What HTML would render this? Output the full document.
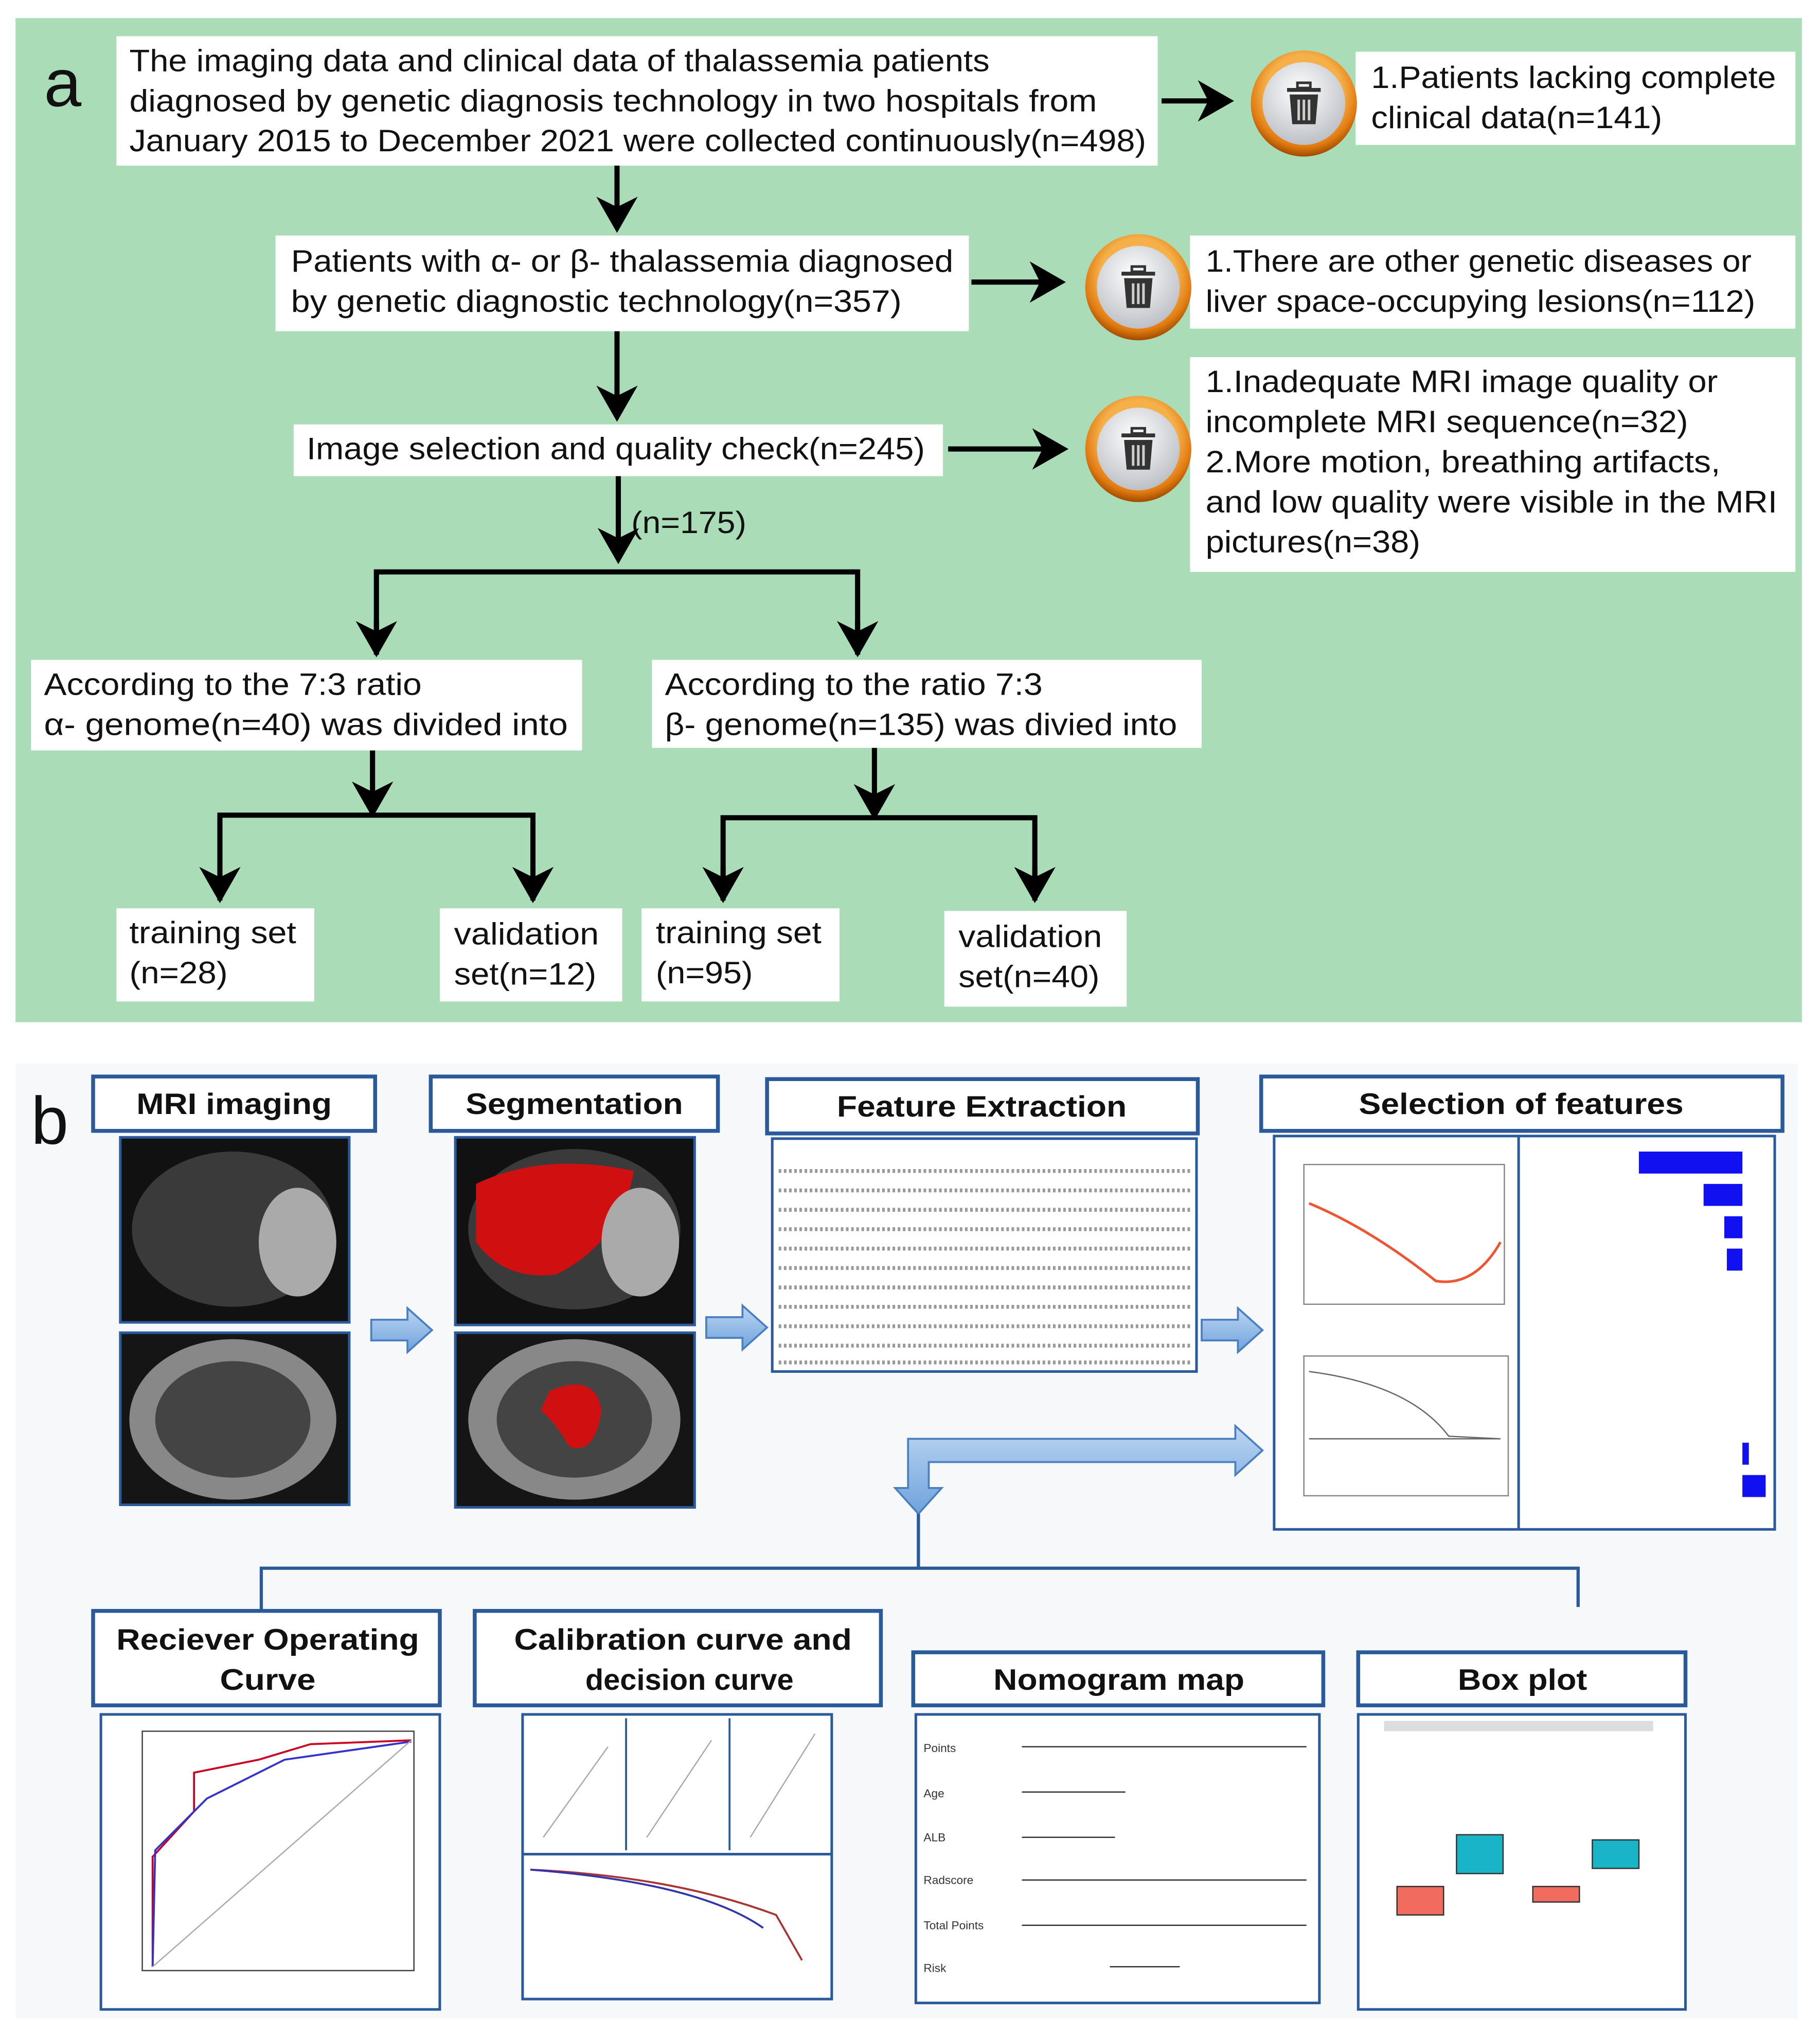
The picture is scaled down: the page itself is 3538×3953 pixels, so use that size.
<!DOCTYPE html>
<html><head><meta charset="utf-8"><style>
html,body{margin:0;padding:0;background:#fff;}
svg{display:block;}
text{font-family:"Liberation Sans","DejaVu Sans",sans-serif;}
</style></head><body>
<svg width="3538" height="3953" viewBox="0 0 1407 1572" preserveAspectRatio="none" xmlns="http://www.w3.org/2000/svg">
<defs>
<marker id="ah" markerWidth="8" markerHeight="8" refX="6" refY="4" orient="auto" markerUnits="strokeWidth"><path d="M0,0 L7,4 L0,8 L2,4 z" fill="#000"/></marker>
<radialGradient id="ring" cx="50%" cy="40%" r="60%"><stop offset="0.6" stop-color="#f6b04a"/><stop offset="0.85" stop-color="#e07a10"/><stop offset="1" stop-color="#a04a00"/></radialGradient>
<radialGradient id="inner" cx="45%" cy="35%" r="70%"><stop offset="0" stop-color="#ffffff"/><stop offset="1" stop-color="#b8bcc2"/></radialGradient>
<g id="trash">
<circle r="41" fill="url(#ring)"/>
<circle r="32" fill="url(#inner)"/>
<rect x="-13" y="-12" width="26" height="3" fill="#333"/>
<rect x="-5" y="-16" width="10" height="4" fill="none" stroke="#333" stroke-width="2"/>
<path d="M-11,-7 L11,-7 L9,16 L-9,16 Z" fill="#333"/>
<rect x="-5" y="-3" width="2" height="16" fill="#ccc"/><rect x="-1" y="-3" width="2" height="16" fill="#ccc"/><rect x="3" y="-3" width="2" height="16" fill="#ccc"/>
</g>
<linearGradient id="blu" x1="0" y1="0" x2="0" y2="1"><stop offset="0" stop-color="#bcd6f2"/><stop offset="1" stop-color="#6fa2dc"/></linearGradient>
</defs>

<!-- Panel a -->
<rect x="12" y="14" width="1381" height="776" fill="#abdcb8"/>
<text x="34" y="82" font-size="52" fill="#111">a</text>
<g font-size="24" fill="#111" lengthAdjust="spacingAndGlyphs">
<rect x="90" y="28" width="805" height="100" fill="#fff"/>
<text x="100" y="55" textLength="665" lengthAdjust="spacingAndGlyphs">The imaging data and clinical data of thalassemia patients</text>
<text x="100" y="86" textLength="748" lengthAdjust="spacingAndGlyphs">diagnosed by genetic diagnosis technology in two hospitals from</text>
<text x="100" y="117" textLength="786" lengthAdjust="spacingAndGlyphs">January 2015 to December 2021 were collected continuously(n=498)</text>
<rect x="1048" y="40" width="340" height="72" fill="#fff"/>
<text x="1060" y="68" textLength="313" lengthAdjust="spacingAndGlyphs">1.Patients lacking complete</text>
<text x="1060" y="99" textLength="225" lengthAdjust="spacingAndGlyphs">clinical data(n=141)</text>
<rect x="213" y="182" width="536" height="74" fill="#fff"/>
<text x="225" y="210" textLength="512" lengthAdjust="spacingAndGlyphs">Patients with α- or β- thalassemia diagnosed</text>
<text x="225" y="241" textLength="472" lengthAdjust="spacingAndGlyphs">by genetic diagnostic technology(n=357)</text>
<rect x="920" y="182" width="468" height="72" fill="#fff"/>
<text x="932" y="210" textLength="422" lengthAdjust="spacingAndGlyphs">1.There are other genetic diseases or</text>
<text x="932" y="241" textLength="425" lengthAdjust="spacingAndGlyphs">liver space-occupying lesions(n=112)</text>
<rect x="227" y="328" width="502" height="40" fill="#fff"/>
<text x="237" y="355" textLength="478" lengthAdjust="spacingAndGlyphs">Image selection and quality check(n=245)</text>
<rect x="920" y="276" width="468" height="166" fill="#fff"/>
<text x="932" y="303" textLength="396" lengthAdjust="spacingAndGlyphs">1.Inadequate MRI image quality or</text>
<text x="932" y="334" textLength="373" lengthAdjust="spacingAndGlyphs">incomplete MRI sequence(n=32)</text>
<text x="932" y="365" textLength="398" lengthAdjust="spacingAndGlyphs">2.More motion, breathing artifacts,</text>
<text x="932" y="396" textLength="442" lengthAdjust="spacingAndGlyphs">and low quality were visible in the MRI</text>
<text x="932" y="427" textLength="166" lengthAdjust="spacingAndGlyphs">pictures(n=38)</text>
<text x="488" y="412" textLength="89" lengthAdjust="spacingAndGlyphs">(n=175)</text>
<rect x="24" y="510" width="426" height="70" fill="#fff"/>
<text x="34" y="537" textLength="292" lengthAdjust="spacingAndGlyphs">According to the 7:3 ratio</text>
<text x="34" y="568" textLength="405" lengthAdjust="spacingAndGlyphs">α- genome(n=40)  was divided into</text>
<rect x="504" y="510" width="425" height="68" fill="#fff"/>
<text x="514" y="537" textLength="292" lengthAdjust="spacingAndGlyphs">According to the ratio 7:3</text>
<text x="514" y="568" textLength="396" lengthAdjust="spacingAndGlyphs">β- genome(n=135) was divied into</text>
<rect x="90" y="702" width="153" height="72" fill="#fff"/>
<text x="100" y="729" textLength="129" lengthAdjust="spacingAndGlyphs">training set</text><text x="100" y="760" textLength="76" lengthAdjust="spacingAndGlyphs">(n=28)</text>
<rect x="340" y="702" width="141" height="72" fill="#fff"/>
<text x="351" y="730" textLength="112" lengthAdjust="spacingAndGlyphs">validation</text><text x="351" y="761" textLength="110" lengthAdjust="spacingAndGlyphs">set(n=12)</text>
<rect x="496" y="702" width="153" height="72" fill="#fff"/>
<text x="507" y="729" textLength="128" lengthAdjust="spacingAndGlyphs">training set</text><text x="507" y="760" textLength="75" lengthAdjust="spacingAndGlyphs">(n=95)</text>
<rect x="730" y="704" width="141" height="74" fill="#fff"/>
<text x="741" y="732" textLength="111" lengthAdjust="spacingAndGlyphs">validation</text><text x="741" y="763" textLength="109" lengthAdjust="spacingAndGlyphs">set(n=40)</text>
</g>
<g stroke="#000" stroke-width="4" fill="none">
<line x1="477" y1="128" x2="477" y2="176" marker-end="url(#ah)"/>
<line x1="477" y1="256" x2="477" y2="322" marker-end="url(#ah)"/>
<line x1="478" y1="368" x2="478" y2="432" marker-end="url(#ah)"/>
<line x1="898" y1="78" x2="950" y2="78" marker-end="url(#ah)"/>
<line x1="751" y1="218" x2="820" y2="218" marker-end="url(#ah)"/>
<line x1="733" y1="347" x2="822" y2="347" marker-end="url(#ah)"/>
<polyline points="291,506 291,442 663,442 663,506" />
<line x1="291" y1="480" x2="291" y2="504" marker-end="url(#ah)"/>
<line x1="663" y1="480" x2="663" y2="504" marker-end="url(#ah)"/>
<line x1="288" y1="580" x2="288" y2="628" marker-end="url(#ah)"/>
<polyline points="170,696 170,630 412,630 412,696"/>
<line x1="170" y1="670" x2="170" y2="694" marker-end="url(#ah)"/>
<line x1="412" y1="670" x2="412" y2="694" marker-end="url(#ah)"/>
<line x1="676" y1="578" x2="676" y2="630" marker-end="url(#ah)"/>
<polyline points="559,696 559,632 800,632 800,696"/>
<line x1="559" y1="670" x2="559" y2="694" marker-end="url(#ah)"/>
<line x1="800" y1="670" x2="800" y2="694" marker-end="url(#ah)"/>
</g>
<use href="#trash" x="1008" y="80"/>
<use href="#trash" x="880" y="222"/>
<use href="#trash" x="880" y="347"/>

<!-- Panel b -->
<rect x="12" y="822" width="1378" height="738" fill="#f7f8fa"/>
<text x="24" y="884" font-size="52" fill="#111">b</text>
<g fill="#fff" stroke="#2a5a9a" stroke-width="3">
<rect x="72" y="832" width="218" height="42"/>
<rect x="333" y="832" width="222" height="42"/>
<rect x="593" y="834" width="333" height="42"/>
<rect x="975" y="832" width="403" height="42"/>
<rect x="72" y="1245" width="268" height="73"/>
<rect x="367" y="1245" width="314" height="73"/>
<rect x="706" y="1277" width="317" height="41"/>
<rect x="1050" y="1277" width="253" height="41"/>
</g>
<g font-size="23" font-weight="bold" fill="#111" text-anchor="middle">
<text x="181" y="861" textLength="151" lengthAdjust="spacingAndGlyphs">MRI imaging</text>
<text x="444" y="861" textLength="168" lengthAdjust="spacingAndGlyphs">Segmentation</text>
<text x="759" y="863" textLength="224" lengthAdjust="spacingAndGlyphs">Feature Extraction</text>
<text x="1176" y="861" textLength="251" lengthAdjust="spacingAndGlyphs">Selection of features</text>
<text x="207" y="1275" textLength="234" lengthAdjust="spacingAndGlyphs">Reciever Operating</text>
<text x="207" y="1306" textLength="74" lengthAdjust="spacingAndGlyphs">Curve</text>
<text x="528" y="1275" textLength="261" lengthAdjust="spacingAndGlyphs">Calibration curve and</text>
<text x="533" y="1306" textLength="161" lengthAdjust="spacingAndGlyphs">decision curve</text>
<text x="865" y="1306" textLength="194" lengthAdjust="spacingAndGlyphs">Nomogram map</text>
<text x="1177" y="1306" textLength="100" lengthAdjust="spacingAndGlyphs">Box plot</text>
</g>
<!-- MRI images -->
<g stroke="#2a5a9a" stroke-width="2">
<rect x="93" y="879" width="177" height="143" fill="#111"/>
<rect x="93" y="1030" width="177" height="133" fill="#151515"/>
<rect x="352" y="879" width="185" height="145" fill="#111"/>
<rect x="352" y="1030" width="185" height="135" fill="#151515"/>
</g>
<ellipse cx="180" cy="950" rx="78" ry="60" fill="#3a3a3a"/>
<ellipse cx="230" cy="960" rx="30" ry="42" fill="#aaa"/>
<ellipse cx="180" cy="1097" rx="80" ry="62" fill="#888"/>
<ellipse cx="180" cy="1097" rx="60" ry="45" fill="#444"/>
<ellipse cx="444" cy="950" rx="82" ry="62" fill="#3a3a3a"/>
<path d="M368,915 Q420,890 490,905 Q480,960 430,985 Q390,990 368,960 Z" fill="#d01010"/>
<ellipse cx="495" cy="960" rx="30" ry="42" fill="#aaa"/>
<ellipse cx="444" cy="1097" rx="82" ry="62" fill="#888"/>
<ellipse cx="444" cy="1097" rx="60" ry="45" fill="#444"/>
<path d="M425,1075 Q460,1060 465,1090 Q460,1125 440,1118 Q430,1100 418,1090 Z" fill="#d01010"/>
<!-- spreadsheet -->
<rect x="597" y="880" width="328" height="180" fill="#fff" stroke="#2a5a9a" stroke-width="2"/>
<g stroke="#999" stroke-width="3" stroke-dasharray="2 2">
<line x1="602" y1="905" x2="920" y2="905"/><line x1="602" y1="920" x2="920" y2="920"/><line x1="602" y1="935" x2="920" y2="935"/><line x1="602" y1="950" x2="920" y2="950"/><line x1="602" y1="965" x2="920" y2="965"/><line x1="602" y1="980" x2="920" y2="980"/><line x1="602" y1="995" x2="920" y2="995"/><line x1="602" y1="1010" x2="920" y2="1010"/><line x1="602" y1="1025" x2="920" y2="1025"/><line x1="602" y1="1040" x2="920" y2="1040"/><line x1="602" y1="1053" x2="920" y2="1053"/>
</g>
<!-- selection -->
<rect x="985" y="878" width="387" height="304" fill="#fff" stroke="#2a5a9a" stroke-width="2"/>
<line x1="1174" y1="878" x2="1174" y2="1182" stroke="#2a5a9a" stroke-width="2"/>
<rect x="1008" y="900" width="155" height="108" fill="none" stroke="#888"/>
<path d="M1012,930 Q1060,950 1110,990 Q1140,995 1160,960" fill="none" stroke="#e53" stroke-width="2"/>
<rect x="1008" y="1048" width="158" height="108" fill="none" stroke="#888"/>
<path d="M1012,1060 Q1090,1070 1120,1110 L1160,1112 M1012,1112 L1160,1112" fill="none" stroke="#666"/>
<g fill="#1010f0"><rect x="1267" y="890" width="80" height="17"/><rect x="1317" y="915" width="30" height="17"/><rect x="1333" y="940" width="14" height="17"/><rect x="1335" y="965" width="12" height="17"/><rect x="1347" y="1115" width="5" height="17"/><rect x="1347" y="1140" width="18" height="17"/></g>
<!-- blue arrows -->
<g fill="url(#blu)" stroke="#4a80c0" stroke-width="1.5">
<path d="M287,1020 L315,1020 L315,1011 L334,1028 L315,1045 L315,1036 L287,1036 Z"/>
<path d="M546,1018 L574,1018 L574,1009 L593,1026 L574,1043 L574,1034 L546,1034 Z"/>
<path d="M929,1020 L957,1020 L957,1011 L976,1028 L957,1045 L957,1036 L929,1036 Z"/>
<path d="M702,1112 L955,1112 L955,1102 L976,1121 L955,1140 L955,1130 L718,1130 L718,1150 L728,1150 L710,1170 L692,1150 L702,1150 Z"/>
</g>
<path d="M202,1244 L202,1212 L1220,1212 L1220,1242 M710,1170 L710,1212" fill="none" stroke="#2a5a9a" stroke-width="2.5"/>
<!-- bottom images -->
<g fill="#fff" stroke="#2a5a9a" stroke-width="2">
<rect x="78" y="1325" width="262" height="228"/>
<rect x="404" y="1325" width="239" height="220"/>
<rect x="708" y="1325" width="312" height="223"/>
<rect x="1050" y="1325" width="253" height="228"/>
</g>
<rect x="110" y="1338" width="210" height="185" fill="none" stroke="#444"/>
<path d="M118,1520 L118,1435 L150,1400 L150,1370 L200,1360 L240,1348 L318,1345" fill="none" stroke="#c02" stroke-width="1.5"/>
<path d="M118,1520 L120,1430 L160,1390 L220,1360 L318,1346" fill="none" stroke="#33c" stroke-width="1.5"/>
<line x1="118" y1="1520" x2="318" y2="1345" stroke="#aaa"/>
<line x1="404" y1="1433" x2="643" y2="1433" stroke="#2a5a9a" stroke-width="2"/>
<line x1="484" y1="1328" x2="484" y2="1430" stroke="#2a5a9a" stroke-width="1.5"/>
<line x1="564" y1="1328" x2="564" y2="1430" stroke="#2a5a9a" stroke-width="1.5"/>
<path d="M420,1420 L470,1350 M500,1420 L550,1345 M580,1420 L630,1340" fill="none" stroke="#aaa"/>
<path d="M410,1445 Q520,1450 600,1480 L620,1515" fill="none" stroke="#a33" stroke-width="1.5"/>
<path d="M410,1445 Q540,1455 590,1490" fill="none" stroke="#33a" stroke-width="1.5"/>
<g stroke="#333" stroke-width="1"><line x1="790" y1="1350" x2="1010" y2="1350"/><line x1="790" y1="1385" x2="870" y2="1385"/><line x1="790" y1="1420" x2="862" y2="1420"/><line x1="790" y1="1453" x2="1010" y2="1453"/><line x1="790" y1="1488" x2="1010" y2="1488"/><line x1="858" y1="1520" x2="912" y2="1520"/></g>
<g font-size="9" fill="#333"><text x="714" y="1354">Points</text><text x="714" y="1389">Age</text><text x="714" y="1423">ALB</text><text x="714" y="1456">Radscore</text><text x="714" y="1491">Total Points</text><text x="714" y="1524">Risk</text></g>
<rect x="1070" y="1330" width="208" height="8" fill="#ddd"/>
<rect x="1080" y="1458" width="36" height="22" fill="#f26b5f" stroke="#333"/>
<rect x="1126" y="1418" width="36" height="30" fill="#19b4c8" stroke="#333"/>
<rect x="1185" y="1458" width="36" height="12" fill="#f26b5f" stroke="#333"/>
<rect x="1231" y="1422" width="36" height="22" fill="#19b4c8" stroke="#333"/>
</svg>
</body></html>
